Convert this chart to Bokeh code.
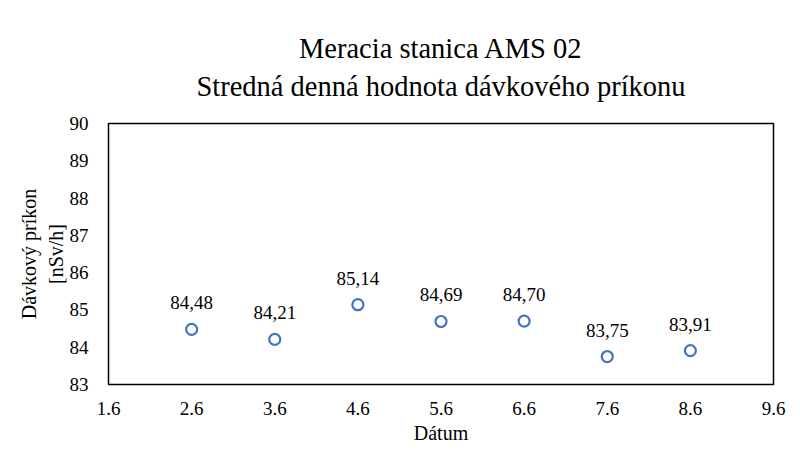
from bokeh.plotting import figure
from bokeh.models import ColumnDataSource, FixedTicker, Range1d, LabelSet, LinearAxis
from bokeh.embed import file_html
from bokeh.resources import INLINE

x_vals = [2.6, 3.6, 4.6, 5.6, 6.6, 7.6, 8.6]
y_vals = [84.48, 84.21, 85.14, 84.69, 84.70, 83.75, 83.91]
labels = ["84,48", "84,21", "85,14", "84,69", "84,70", "83,75", "83,91"]
x_ticks = [1.6, 2.6, 3.6, 4.6, 5.6, 6.6, 7.6, 8.6, 9.6]
y_ticks = [83, 84, 85, 86, 87, 88, 89, 90]
title_lines = ["Meracia stanica AMS 02", "Stredná denná hodnota dávkového príkonu"]

FONT = "Liberation Serif"
W, H = 800, 462
BL, BR, BB, BT = 108, 27, 78, 123

p = figure(width=W, height=H, output_backend="svg", toolbar_location=None,
           x_range=Range1d(1.6, 9.6), y_range=Range1d(83, 90),
           min_border_left=BL, min_border_right=BR, min_border_bottom=BB, min_border_top=BT,
           title=None)

xa = p.below[0]
ya = p.left[0]

# two-line centred title, drawn as the label of a bare axis above the frame
title_axis = LinearAxis(axis_label="\n".join(title_lines), ticker=FixedTicker(ticks=[]),
                        axis_line_color=None, major_tick_line_color=None,
                        minor_tick_line_color=None, major_tick_out=0, minor_tick_out=0,
                        major_tick_in=0, minor_tick_in=0,
                        major_label_standoff=0, axis_label_standoff=22,
                        axis_label_text_font=FONT, axis_label_text_font_size="28.5px",
                        axis_label_text_font_style="normal", axis_label_text_color="black")
p.add_layout(title_axis, "above")

src = ColumnDataSource(dict(x=x_vals, y=y_vals, lab=labels))
p.scatter("x", "y", source=src, marker="circle", size=11, fill_color=None,
          line_color="#4472C4", line_width=2.2)
p.add_layout(LabelSet(x="x", y="y", text="lab", source=src, y_offset=20,
                      text_align="center", text_baseline="bottom",
                      text_font=FONT, text_font_size="19px", text_color="black"))

p.xgrid.visible = False
p.ygrid.visible = False
p.outline_line_color = "black"
p.outline_line_width = 1.5
p.outline_line_alpha = 1

for ax in (xa, ya):
    ax.axis_line_color = None
    ax.major_tick_line_color = None
    ax.minor_tick_line_color = None
    ax.major_label_text_font = FONT
    ax.major_label_text_font_size = "19px"
    ax.major_label_text_color = "black"
    ax.axis_label_text_font = FONT
    ax.axis_label_text_font_size = "20px"
    ax.axis_label_text_font_style = "normal"
    ax.axis_label_text_color = "black"

xa.ticker = FixedTicker(ticks=x_ticks)
xa.major_label_overrides = {t: f"{t:.1f}" for t in x_ticks}
ya.ticker = FixedTicker(ticks=y_ticks)
xa.axis_label = "Dátum"
ya.axis_label = "Dávkový príkon\n[nSv/h]"
xa.major_label_standoff = 11
xa.axis_label_standoff = 4
ya.major_label_standoff = 14
ya.axis_label_standoff = 0

open("out.html", "w").write(file_html(p, INLINE))
